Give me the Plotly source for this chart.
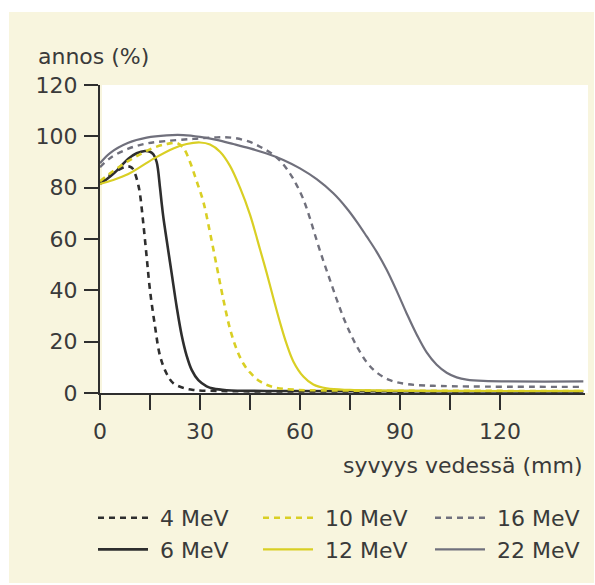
import plotly.graph_objects as go

# ---- data (depth in mm, dose in %) ----
depth_4 = [0, 2, 5, 8, 9.5, 10.5, 11.5, 12, 13, 14, 15, 16.5, 18, 20, 22, 25, 28, 35, 60, 145]
dose_4 = [82, 84, 86.5, 88.3, 87.8, 85.5, 81, 77.5, 66, 53, 40, 26, 14.5, 7.5, 3.8, 2, 1.2, 0.8, 0.6, 0.5]

depth_6 = [0, 2, 4.5, 8.5, 11, 13.5, 15, 16, 17, 18, 18.5, 19, 20, 21.5, 23, 24.5, 26, 27.5, 29.5, 32, 34, 38, 50, 145]
dose_6 = [81.5, 83.3, 86, 91.3, 93.4, 94.3, 94, 93, 90, 80, 74, 68.5, 59.6, 46.6, 33.6, 22.5, 14.5, 9, 5, 2.6, 1.7, 1.1, 0.8, 0.6]

depth_10 = [0, 4, 8, 12, 16, 20, 23, 25, 27, 29, 31, 33, 35, 37, 39, 41, 43, 45, 48, 52, 58, 70, 145]
dose_10 = [82.5, 86.5, 90, 93, 95.5, 97, 97.4, 95.5, 90, 82.5, 74.5, 62.5, 49.5, 36.5, 25, 17, 11.5, 8, 4.5, 2.3, 1.3, 1.0, 0.8]

depth_12 = [0, 4, 8.5, 12, 16.5, 22, 26, 30, 33, 36, 39, 42, 45, 48, 50, 52, 54, 56, 58, 61, 64, 68, 75, 145]
dose_12 = [81.5, 83, 85.3, 88, 91.6, 95.3, 97, 97.6, 96.8, 94, 88.5, 80, 69.5, 56, 46.8, 37, 27.5, 19, 12.3, 6.4, 3.3, 1.8, 1.2, 0.8]

depth_16 = [0, 3, 8.5, 14, 20, 28, 35, 40, 45, 48.5, 51.5, 54.5, 57, 59, 61, 63, 65, 67, 69, 71, 73, 75, 77, 80, 83, 87, 92, 100, 145]
dose_16 = [88, 91.5, 95.2, 97.2, 98.2, 99, 99.6, 99.4, 97.8, 95.6, 93.3, 89.8, 85.5, 81, 75.5, 68, 59.5, 51.5, 44, 36.5, 29.5, 23.5, 18.3, 12, 8, 5, 3.5, 2.8, 2.4]

depth_22 = [0, 3, 8.5, 14, 20, 25, 30, 35, 40, 45, 50, 55, 60, 65, 70, 74, 77, 80, 83, 86, 89, 92, 95, 98, 101, 104, 107, 110, 115, 145]
dose_22 = [89.5, 93.5, 97.5, 99.5, 100.4, 100.5, 99.8, 98.6, 97, 95.3, 93.3, 90.8, 87.5, 83.3, 77.8, 72, 66.8, 61, 55, 48, 39.8, 31, 22.8, 15.8, 11, 7.9, 6.1, 5.2, 4.7, 4.5]

labels = ["4 MeV", "6 MeV", "10 MeV", "12 MeV", "16 MeV", "22 MeV"]
x_ticks = [0, 15, 30, 45, 60, 75, 90, 105, 120]
x_tick_text = ["0", "", "30", "", "60", "", "90", "", "120"]
y_ticks = [0, 20, 40, 60, 80, 100, 120]

DARK = "#2e2e2e"
YEL = "#d9cf24"
GRAY = "#70707c"
TXT = "#3a3a3a"
FONT = "DejaVu Sans"
FS = 22
NB = "\u00a0"

series = [
    (depth_4, dose_4, labels[0], DARK, "6px,5px", 2.6, "legend"),
    (depth_6, dose_6, labels[1], DARK, "solid", 2.6, "legend"),
    (depth_10, dose_10, labels[2], YEL, "6px,5px", 2.6, "legend2"),
    (depth_12, dose_12, labels[3], YEL, "solid", 2.2, "legend2"),
    (depth_16, dose_16, labels[4], GRAY, "6px,5px", 2.4, "legend3"),
    (depth_22, dose_22, labels[5], GRAY, "solid", 2.2, "legend3"),
]

fig = go.Figure()
for xs, ys, name, col, dash, w, lg in series:
    fig.add_trace(go.Scatter(
        x=xs, y=ys, name=NB + name, mode="lines",
        line=dict(color=col, dash=dash, width=w, shape="spline", smoothing=1.0),
        legend=lg, cliponaxis=True,
    ))

W, H = 595, 585
L, R, T, B = 100, 10, 85, 192
pw = W - L - R
ph = H - T - B

def px2x(p):
    return (p - L) / pw

def py2y(p):
    return (H - B - p) / ph

legend_common = dict(
    orientation="v", xanchor="left", yanchor="top",
    bgcolor="rgba(0,0,0,0)", borderwidth=0,
    font=dict(family=FONT, size=FS, color=TXT),
    itemwidth=50, tracegroupgap=6,
)

fig.update_layout(
    width=W, height=H,
    margin=dict(l=L, r=R, t=T, b=B),
    paper_bgcolor="white",
    plot_bgcolor="rgba(0,0,0,0)",
    font=dict(family=FONT, size=FS, color=TXT),
    showlegend=True,
    legend=dict(x=px2x(93), y=py2y(497), **legend_common),
    legend2=dict(x=px2x(258), y=py2y(497), **legend_common),
    legend3=dict(x=px2x(430), y=py2y(497), **legend_common),
    xaxis=dict(
        range=[0, 145.5], tickmode="array", tickvals=x_ticks, ticktext=x_tick_text,
        showgrid=False, zeroline=False, showline=True, linecolor=DARK, linewidth=2,
        ticks="outside", ticklen=15, tickwidth=2, tickcolor=DARK,
        tickfont=dict(family=FONT, size=FS, color=TXT), ticklabelstandoff=3,
    ),
    yaxis=dict(
        range=[0, 120], tickmode="array", tickvals=y_ticks,
        showgrid=False, zeroline=False, showline=True, linecolor=DARK, linewidth=2,
        ticks="outside", ticklen=14, tickwidth=2, tickcolor=DARK,
        tickfont=dict(family=FONT, size=FS, color=TXT), ticklabelstandoff=2,
    ),
    shapes=[
        dict(type="rect", xref="paper", yref="paper", layer="below",
             x0=px2x(9), x1=px2x(594), y0=py2y(583), y1=py2y(12),
             fillcolor="#f8f5de", line=dict(width=0)),
        dict(type="rect", xref="paper", yref="paper", layer="below",
             x0=px2x(102), x1=px2x(588), y0=0, y1=1,
             fillcolor="white", line=dict(width=0)),
    ],
    annotations=[
        dict(text="annos (%)", xref="paper", yref="paper", x=px2x(36), y=py2y(56),
             xanchor="left", yanchor="middle", showarrow=False,
             font=dict(family=FONT, size=FS, color=TXT)),
        dict(text="syvyys vedessä (mm)", xref="paper", yref="paper", x=px2x(584), y=py2y(465),
             xanchor="right", yanchor="middle", showarrow=False,
             font=dict(family=FONT, size=FS, color=TXT)),
    ],
)

fig.write_html("out.html")
